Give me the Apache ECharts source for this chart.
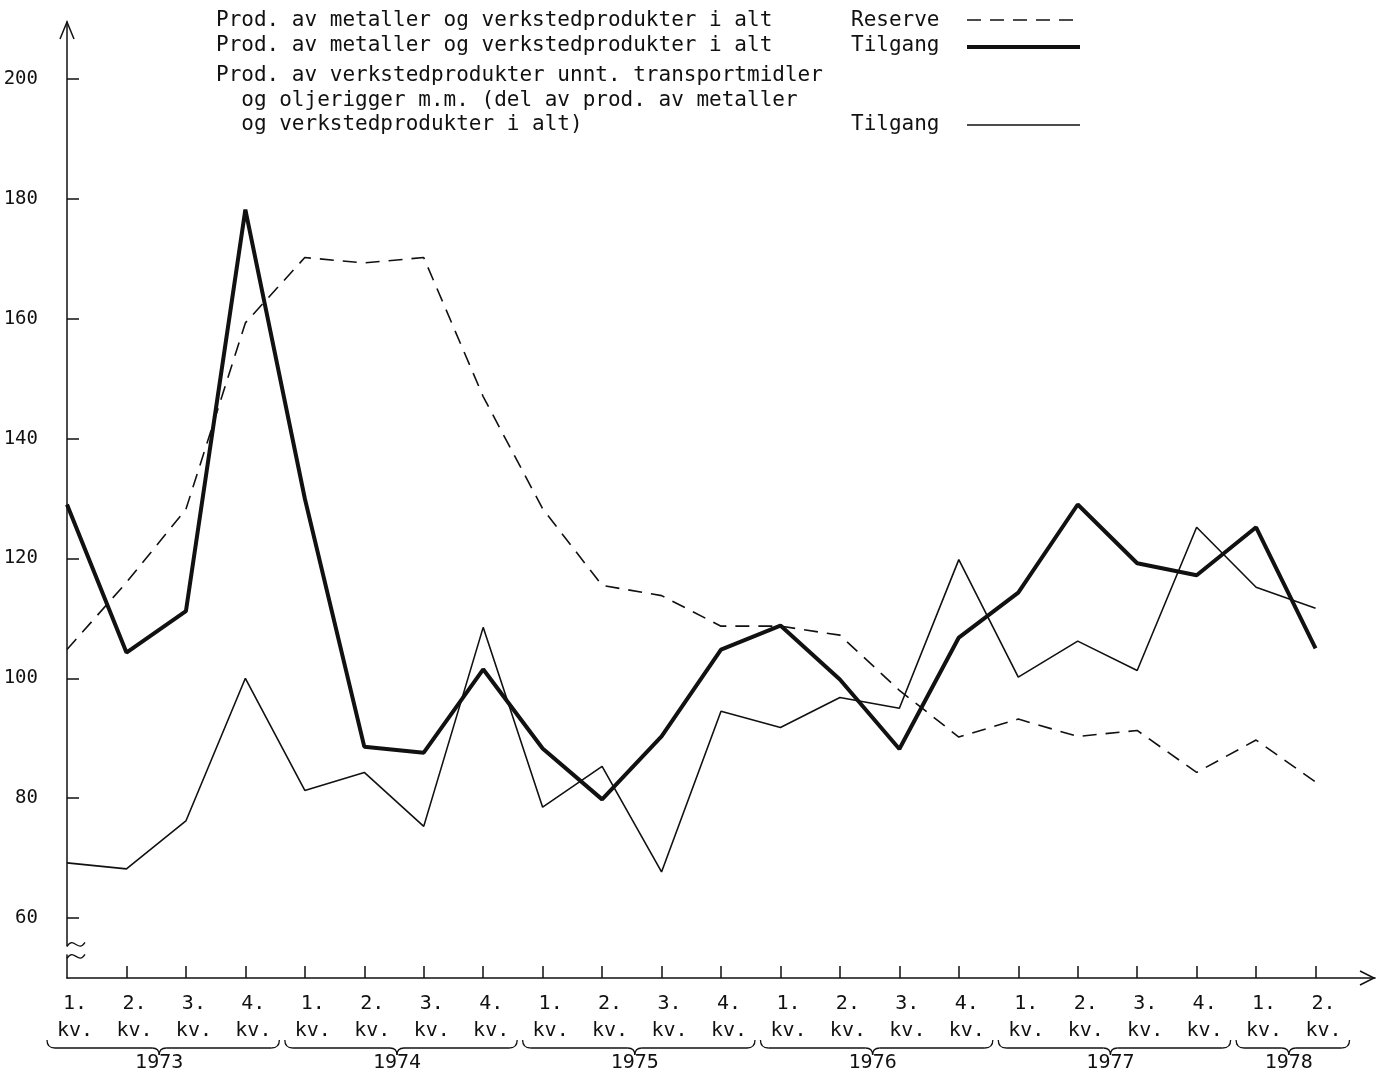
<!DOCTYPE html>
<html>
<head>
<meta charset="utf-8">
<script src="https://cdn.jsdelivr.net/npm/echarts@6/dist/echarts.min.js"></script>
<style>html,body{margin:0;padding:0;background:#fff}#c{width:1386px;height:1076px}</style>
</head>
<body>
<div id="c"></div>
<script>
// ---- data ----
const quarters = [
  '1.\nkv.','2.\nkv.','3.\nkv.','4.\nkv.',
  '1.\nkv.','2.\nkv.','3.\nkv.','4.\nkv.',
  '1.\nkv.','2.\nkv.','3.\nkv.','4.\nkv.',
  '1.\nkv.','2.\nkv.','3.\nkv.','4.\nkv.',
  '1.\nkv.','2.\nkv.','3.\nkv.','4.\nkv.',
  '1.\nkv.','2.\nkv.'
];
const years = ['1973','1974','1975','1976','1977','1978'];
const yearFirstIdx = [0,4,8,12,16,20];
const yearLastIdx = [3,7,11,15,19,21];
const yTicks = [60,80,100,120,140,160,180,200];

const reserveTotal = [104.8,116,128.2,159.3,170.2,169.3,170.2,147,128.3,115.5,113.8,108.7,108.7,107.2,98,90.2,93.2,90.3,91.3,84.3,89.7,82.7];
const tilgangTotal = [129,104.3,111.2,178.2,130,88.6,87.6,101.5,88.3,79.8,90.3,104.8,108.8,99.8,88.2,106.8,114.3,129,119.2,117.2,125.2,105];
const tilgangVerksted = [69.2,68.2,76.2,100,81.3,84.3,75.3,108.5,78.5,85.3,67.7,94.5,91.8,96.8,95,119.8,100.2,106.2,101.3,125.2,115.2,111.7];

const legendLines = [
  'Prod. av metaller og verkstedprodukter i alt',
  'Prod. av metaller og verkstedprodukter i alt',
  'Prod. av verkstedprodukter unnt. transportmidler',
  '  og oljerigger m.m. (del av prod. av metaller',
  '  og verkstedprodukter i alt)'
];
const legendKinds = ['Reserve','Tilgang','Tilgang'];

// ---- chart ----
const MONO = 'DejaVu Sans Mono';
const INK = '#111';
const chart = echarts.init(document.getElementById('c'), null, {renderer:'canvas'});
const dash = [14, 9];

chart.setOption({
  animation: false,
  backgroundColor: '#fff',
  grid: {left: 67, right: 0, top: 22, bottom: 98},
  xAxis: {
    type: 'category',
    data: quarters.concat(['']),
    boundaryGap: false,
    axisLine: {onZero: false, lineStyle: {color: INK, width: 1.5}},
    axisTick: {inside: true, length: 12, lineStyle: {color: INK, width: 1.5},
               interval: function (i) { return i > 0 && i < quarters.length; }},
    axisLabel: {interval: 0, color: INK, fontFamily: MONO, fontSize: 20, lineHeight: 27,
                margin: 12, padding: [0, 0, 0, 16]},
    splitLine: {show: false}
  },
  yAxis: {
    type: 'value',
    min: 50, max: 209.5,
    axisLine: {show: true, lineStyle: {color: INK, width: 1.5}},
    axisTick: {show: true, inside: true, length: 12, lineStyle: {color: INK, width: 1.5}, customValues: yTicks},
    axisLabel: {customValues: yTicks, color: INK, fontFamily: MONO, fontSize: 19, margin: 29},
    splitLine: {show: false}
  },
  series: [
    {name: 'Reserve', type: 'line', data: reserveTotal, symbol: 'none', z: 3,
     lineStyle: {color: INK, width: 1.6, type: dash}},
    {name: 'Tilgang (i alt)', type: 'line', data: tilgangTotal, symbol: 'none', z: 4,
     lineStyle: {color: INK, width: 4}},
    {name: 'Tilgang (verksted)', type: 'line', data: tilgangVerksted, symbol: 'none', z: 2,
     lineStyle: {color: INK, width: 1.6}}
  ]
});

// ---- decorations ----
const px = (i, v) => chart.convertToPixel({gridIndex: 0}, [i, v]);
const g = [];
const ax0 = px(0, 50);
const yTop = px(0, 209.5);
const xEnd = px(quarters.length, 50);
const thin = {stroke: INK, lineWidth: 1.3, fill: null};
// arrows (open V)
g.push({type: 'polyline', shape: {points: [[yTop[0]-7, yTop[1]+17],[yTop[0], yTop[1]],[yTop[0]+7, yTop[1]+17]]},
        style: {stroke: INK, lineWidth: 1.5, fill: null}, z: 10});
g.push({type: 'polyline', shape: {points: [[xEnd[0]-15, xEnd[1]-7],[xEnd[0]-1, xEnd[1]],[xEnd[0]-15, xEnd[1]+7]]},
        style: {stroke: INK, lineWidth: 1.5, fill: null}, z: 10});
// axis break
const b1 = px(0, 55.6), b2 = px(0, 53.6);
g.push({type: 'rect', shape: {x: ax0[0]-3, y: b1[1]+2, width: 6, height: b2[1]-b1[1]-4},
        style: {fill: '#fff'}, z: 11});
[b1, b2].forEach(function (p) {
  g.push({type: 'bezierCurve', shape: {x1: p[0], y1: p[1]+2, x2: p[0]+18, y2: p[1]-2,
          cpx1: p[0]+7, cpy1: p[1]-9, cpx2: p[0]+11, cpy2: p[1]+9},
          style: thin, z: 12});
});
// braces and years
const braceTop = 1040, braceMid = 1048, braceTip = 1055;
function q(x1, y1, cx, cy, x2, y2) {
  return {type: 'bezierCurve', shape: {x1: x1, y1: y1, x2: x2, y2: y2, cpx1: cx, cpy1: cy}, style: thin, z: 10};
}
function ln(x1, y1, x2, y2) {
  return {type: 'line', shape: {x1: x1, y1: y1, x2: x2, y2: y2}, style: thin, z: 10};
}
years.forEach(function (yr, k) {
  const xa = px(yearFirstIdx[k], 50)[0] - 20;
  const xb = px(yearLastIdx[k], 50)[0] + 34;
  const xm = (xa + xb) / 2 - 4;
  g.push(q(xa, braceTop, xa, braceMid, xa + 8, braceMid));
  g.push(ln(xa + 8, braceMid, xm - 7, braceMid));
  g.push(q(xm - 7, braceMid, xm, braceMid, xm, braceTip));
  g.push(q(xm, braceTip, xm, braceMid, xm + 7, braceMid));
  g.push(ln(xm + 7, braceMid, xb - 8, braceMid));
  g.push(q(xb - 8, braceMid, xb, braceMid, xb, braceTop));
  g.push({type: 'text', x: xm, y: 1063, style: {text: yr, fill: INK, font: '20px "' + MONO + '"',
          textAlign: 'center', textVerticalAlign: 'middle'}, z: 10});
});
// legend block
const lineYs = [21, 46, 76, 101, 125];
legendLines.forEach(function (t, k) {
  g.push({type: 'text', x: 216, y: lineYs[k], style: {text: t, fill: INK, font: '21px "' + MONO + '"',
          textVerticalAlign: 'middle'}, z: 10});
});
const kindYs = [21, 46, 125];
legendKinds.forEach(function (t, k) {
  g.push({type: 'text', x: 851, y: kindYs[k], style: {text: t, fill: INK, font: '21px "' + MONO + '"',
          textVerticalAlign: 'middle'}, z: 10});
});
g.push({type: 'line', shape: {x1: 967, y1: 20, x2: 1080, y2: 20}, style: {stroke: INK, lineWidth: 1.6, lineDash: dash}, z: 10});
g.push({type: 'line', shape: {x1: 967, y1: 47, x2: 1080, y2: 47}, style: {stroke: INK, lineWidth: 4}, z: 10});
g.push({type: 'line', shape: {x1: 967, y1: 125, x2: 1080, y2: 125}, style: {stroke: INK, lineWidth: 1.6}, z: 10});

chart.setOption({graphic: {elements: g}});
</script>
</body>
</html>
